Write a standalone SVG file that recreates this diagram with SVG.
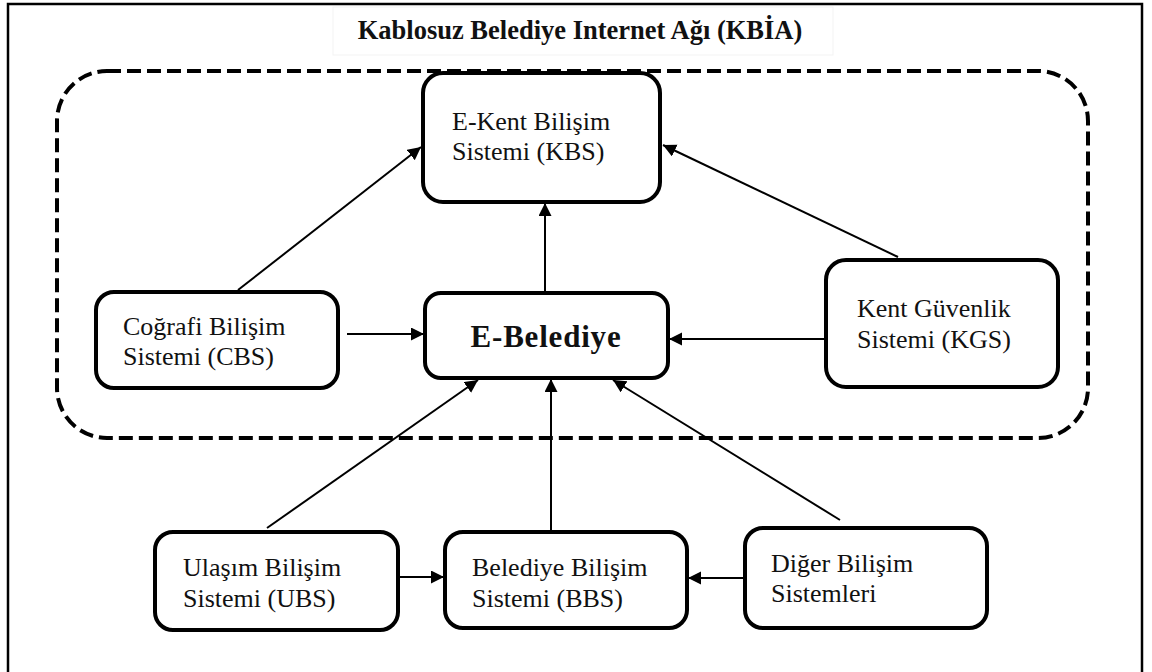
<svg xmlns="http://www.w3.org/2000/svg" width="1152" height="672" viewBox="0 0 1152 672">
  <style>
    .box { fill: #ffffff; stroke: #000000; stroke-width: 4; }
    .lbl { font-family: "Liberation Serif", "Times New Roman", serif; font-size: 26px; fill: #111111; }
    .conn { stroke: #000000; stroke-width: 2; fill: none; marker-end: url(#arrow); }
  </style>
  <defs>
    <marker id="arrow" markerUnits="userSpaceOnUse" markerWidth="14" markerHeight="14" refX="13" refY="6.5" orient="auto">
      <path d="M0,0 L13,6.5 L0,13 z" fill="#000000"/>
    </marker>
  </defs>

  <rect x="0" y="0" width="1152" height="672" fill="#ffffff"/>

  <!-- frame -->
  <rect x="8" y="4" width="1134" height="700" fill="none" stroke="#000000" stroke-width="2.5"/>

  <!-- title -->
  <g id="title">
    <rect x="333" y="7" width="500" height="48" fill="#ffffff" stroke="#f3f3f3" stroke-width="1"/>
    <text x="580" y="39" text-anchor="middle" font-family="Liberation Serif, 'Times New Roman', serif" font-size="26.5" font-weight="bold" fill="#111111">Kablosuz Belediye Internet Ağı (KBİA)</text>
  </g>

  <!-- network boundary -->
  <rect id="kbia-boundary" x="57" y="71" width="1031" height="367" rx="50" ry="50" fill="none" stroke="#000000" stroke-width="4" stroke-dasharray="14 6"/>

  <!-- connectors -->
  <g id="connectors">
    <line class="conn" x1="238" y1="290" x2="421" y2="147"/>
    <line class="conn" x1="545" y1="292" x2="545" y2="203"/>
    <line class="conn" x1="898" y1="257" x2="663" y2="145"/>
    <line class="conn" x1="347" y1="334" x2="424" y2="334"/>
    <line class="conn" x1="826" y1="339" x2="669" y2="339"/>
    <line class="conn" x1="267" y1="528" x2="478" y2="380"/>
    <line class="conn" x1="551" y1="531" x2="551" y2="379"/>
    <line class="conn" x1="840" y1="520" x2="613" y2="380"/>
    <line class="conn" x1="398" y1="577" x2="444" y2="577"/>
    <line class="conn" x1="744" y1="578" x2="688" y2="578"/>
  </g>

  <g id="kbs">
    <rect class="box" x="423" y="73" width="237" height="129" rx="20"/>
    <text class="lbl" x="452" y="130">E-Kent Bilişim</text>
    <text class="lbl" x="452" y="160">Sistemi (KBS)</text>
  </g>

  <g id="cbs">
    <rect class="box" x="96" y="292" width="242" height="96" rx="18"/>
    <text class="lbl" x="123" y="335">Coğrafi Bilişim</text>
    <text class="lbl" x="123" y="365">Sistemi (CBS)</text>
  </g>

  <g id="e-belediye">
    <rect class="box" x="425" y="293" width="243" height="85" rx="16"/>
    <text x="546" y="347" text-anchor="middle" font-family="Liberation Serif, 'Times New Roman', serif" font-size="31" font-weight="bold" letter-spacing="0.8" fill="#111111">E-Belediye</text>
  </g>

  <g id="kgs">
    <rect class="box" x="826" y="260" width="232" height="127" rx="20"/>
    <text class="lbl" x="857" y="317">Kent Güvenlik</text>
    <text class="lbl" x="857" y="348">Sistemi (KGS)</text>
  </g>

  <g id="ubs">
    <rect class="box" x="155" y="532" width="243" height="98" rx="18"/>
    <text class="lbl" x="183" y="576">Ulaşım Bilişim</text>
    <text class="lbl" x="183" y="607">Sistemi (UBS)</text>
  </g>

  <g id="bbs">
    <rect class="box" x="445" y="532" width="242" height="96" rx="18"/>
    <text class="lbl" x="472" y="576">Belediye Bilişim</text>
    <text class="lbl" x="472" y="607">Sistemi (BBS)</text>
  </g>

  <g id="diger">
    <rect class="box" x="745" y="528" width="242" height="100" rx="18"/>
    <text class="lbl" x="771" y="572">Diğer Bilişim</text>
    <text class="lbl" x="771" y="602">Sistemleri</text>
  </g>
</svg>
